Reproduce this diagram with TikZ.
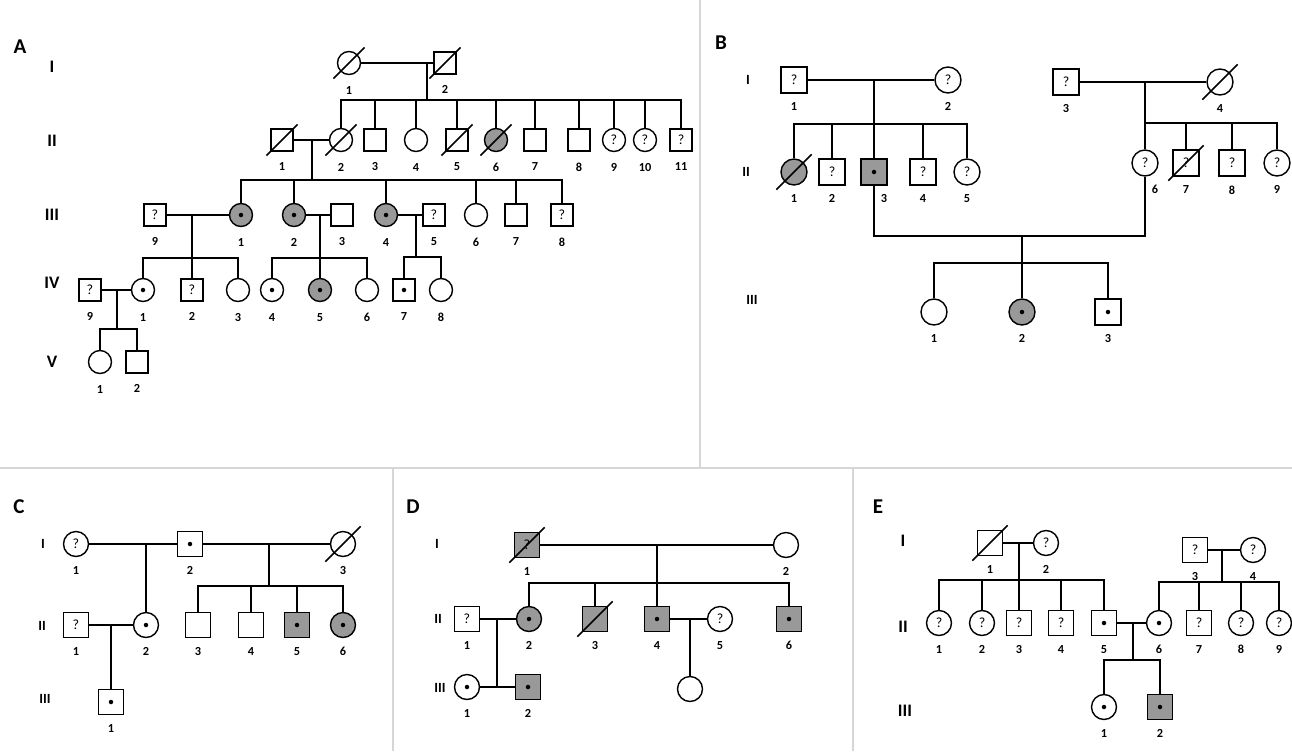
\documentclass[tikz,border=0pt]{standalone}
\usepackage{fontspec}
\setmainfont{Carlito}
\definecolor{shade}{gray}{0.6}
\definecolor{framegray}{gray}{0.84}
\newcommand\numfont{\fontsize{7}{8}\selectfont\bfseries}
\newcommand\qfont{\fontsize{8}{9}\selectfont}
\newcommand\genfont{\fontsize{10}{12}\selectfont\bfseries}
\newcommand\gensmall{\fontsize{8}{9}\selectfont\bfseries}
\newcommand\panelfont{\fontsize{12}{14}\selectfont\bfseries}
\tikzset{
  person/.style={draw, line width=0.8pt, inner sep=0pt, fill=white, font=\qfont},
  male/.style={person, rectangle, minimum size=0.5cm},
  female/.style={person, circle, minimum size=0.5cm},
  aff/.style={fill=shade},
  car/.style={path picture={\fill[black] (path picture bounding box.center) circle (0.045cm);}},
  link/.style={line width=1.15pt},
  slash/.style={line width=0.9pt},
  frame/.style={line width=1pt, draw=framegray},
  every label/.style={font=\numfont, inner sep=0pt},
  gen/.style={font=\genfont},
  gensm/.style={font=\gensmall},
  panel/.style={font=\panelfont}
}
\begin{document}
\begin{tikzpicture}[x=0.02cm, y=-0.02cm, label distance=0.17cm]
\fill[white] (0,0) rectangle (1292,751);
\useasboundingbox (0,0) rectangle (1292,751);
% panel frames
\draw[frame] (700,0) -- (700,468) (0,468) -- (1292,468) (393,468) -- (393,751) (853,468) -- (853,751);

% ---------- A ----------
\begin{scope}[male/.append style={minimum size=0.44cm}, female/.append style={minimum size=0.46cm}, label distance=0.21cm]
\node[panel] (aTag) at (20,47) {A};
\foreach \r/\y in {I/67,II/141,III/215,IV/283,V/362}
  \node[gen] (aG\r) at (52,\y) {\r};
\node[female, label=below:1] (aI1) at (349,63) {};
\node[male, label=below:2] (aI2) at (445,63) {};
\node[male, label=below:1] (aII1) at (282,140) {};
\node[female, label=below:2] (aII2) at (341,140) {};
\node[male, label=below:3] (aII3) at (375,140) {};
\node[female, label=below:4] (aII4) at (416,140) {};
\node[male, label=below:5] (aII5) at (457,140) {};
\node[female, aff, label=below:6] (aII6) at (496,140) {};
\node[male, label=below:7] (aII7) at (535,140) {};
\node[male, label=below:8] (aII8) at (579,140) {};
\node[female, label=below:9] (aII9) at (614,140) {?};
\node[female, label=below:10] (aII10) at (645,140) {?};
\node[male, label=below:11] (aII11) at (681,140) {?};
\node[male, label=below:9] (aIII9) at (155,215) {?};
\node[female, aff, car, label=below:1] (aIII1) at (241,215) {};
\node[female, aff, car, label=below:2] (aIII2) at (294,215) {};
\node[male, label=below:3] (aIII3) at (342,215) {};
\node[female, aff, car, label=below:4] (aIII4) at (386,215) {};
\node[male, label=below:5] (aIII5) at (434,215) {?};
\node[female, label=below:6] (aIII6) at (476,215) {};
\node[male, label=below:7] (aIII7) at (516,215) {};
\node[male, label=below:8] (aIII8) at (562,215) {?};
\node[male, label=below:9] (aIV9) at (90,290) {?};
\node[female, car, label=below:1] (aIV1) at (143,290) {};
\node[male, label=below:2] (aIV2) at (192,290) {?};
\node[female, label=below:3] (aIV3) at (238,290) {};
\node[female, car, label=below:4] (aIV4) at (272,290) {};
\node[female, aff, car, label=below:5] (aIV5) at (320,290) {};
\node[female, label=below:6] (aIV6) at (367,290) {};
\node[male, car, label=below:7] (aIV7) at (404,290) {};
\node[female, label=below:8] (aIV8) at (441,290) {};
\node[female, label=below:1] (aV1) at (100,362) {};
\node[male, label=below:2] (aV2) at (137,362) {};
\coordinate (aM1) at (427,63); \coordinate (aS1) at (427,100);
\coordinate (aM2) at (312,140); \coordinate (aS2) at (312,180);
\coordinate (aM3) at (192,215); \coordinate (aS3) at (192,258);
\coordinate (aM4) at (320,215); \coordinate (aS4) at (320,258);
\coordinate (aM5) at (416,215); \coordinate (aS5) at (416,257);
\coordinate (aM6) at (117,290); \coordinate (aS6) at (117,329);
\draw[link] (aI1) -- (aI2) (aM1) -- (aS1);
\draw[link] (aII2.north) |- (aS1) -| (aII11.north);
\foreach \c in {aII3,aII4,aII5,aII6,aII7,aII8,aII9,aII10}
  \draw[link] (\c.north) -- (\c.north |- aS1);
\draw[link] (aII1) -- (aII2) (aM2) -- (aS2);
\draw[link] (aIII1.north) |- (aS2) -| (aIII8.north);
\foreach \c in {aIII2,aIII4,aIII6,aIII7}
  \draw[link] (\c.north) -- (\c.north |- aS2);
\draw[link] (aIII9) -- (aIII1) (aM3) -- (aIV2);
\draw[link] (aIV1.north) |- (aS3) -| (aIV3.north);
\draw[link] (aIII2) -- (aIII3) (aM4) -- (aIV5);
\draw[link] (aIV4.north) |- (aS4) -| (aIV6.north);
\draw[link] (aIII4) -- (aIII5) (aM5) -- (aS5);
\draw[link] (aIV7.north) |- (aS5) -| (aIV8.north);
\draw[link] (aIV9) -- (aIV1) (aM6) -- (aS6);
\draw[link] (aV1.north) |- (aS6) -| (aV2.north);
\foreach \n in {aI1,aI2,aII1,aII2,aII5,aII6}
  \draw[slash] ([shift={(225:0.44cm)}]\n.center) -- ([shift={(45:0.44cm)}]\n.center);
\end{scope}

% ---------- B ----------
\node[panel] (bTag) at (721,43) {B};
\node[gensm] (bGI) at (748,80) {I};
\node[gensm] (bGII) at (746,172) {II};
\node[gensm] (bGIII) at (752,300) {III};
\begin{scope}[male/.append style={minimum size=0.52cm}, female/.append style={minimum size=0.52cm}]
\node[male, label=below:1] (bI1) at (794,80) {?};
\node[female, label=below:2] (bI2) at (948,80) {?};
\node[male, label=below:3] (bI3) at (1066,82) {?};
\node[female, label=below:4] (bI4) at (1220,82) {};
\node[female, aff, label=below:1] (bII1) at (794,172) {};
\node[male, label=below:2] (bII2) at (832,172) {?};
\node[male, aff, car, label={[xshift=0.2cm]below:3}] (bII3) at (874,172) {};
\node[male, label=below:4] (bII4) at (923,172) {?};
\node[female, label=below:5] (bII5) at (967,172) {?};
\node[female, label={[xshift=0.2cm]below:6}] (bII6) at (1145,163) {?};
\node[male, label=below:7] (bII7) at (1186,163) {?};
\node[male, label=below:8] (bII8) at (1232,163) {?};
\node[female, label=below:9] (bII9) at (1277,163) {?};
\node[female, label=below:1] (bIII1) at (934,312) {};
\node[female, aff, car, label=below:2] (bIII2) at (1022,312) {};
\node[male, car, label=below:3] (bIII3) at (1108,312) {};
\coordinate (bM1) at (874,80); \coordinate (bS1) at (874,124);
\coordinate (bM2) at (1145,82); \coordinate (bS2) at (1145,123);
\coordinate (bM3) at (1022,236); \coordinate (bS3) at (1022,263);
\draw[link] (bI1) -- (bI2) (bM1) -- (bII3);
\draw[link] (bII1.north) |- (bS1) -| (bII5.north);
\foreach \c in {bII2,bII4}
  \draw[link] (\c.north) -- (\c.north |- bS1);
\draw[link] (bI3) -- (bI4) (bM2) -- (bII6);
\draw[link] (bS2) -| (bII9.north);
\foreach \c in {bII7,bII8}
  \draw[link] (\c.north) -- (\c.north |- bS2);
\draw[link] (bII3) |- (bM3) -| (bII6);
\draw[link] (bM3) -- (bIII2);
\draw[link] (bIII1.north) |- (bS3) -| (bIII3.north);
\foreach \n in {bII1,bI4,bII7}
  \draw[slash] ([shift={(225:0.5cm)}]\n.center) -- ([shift={(45:0.5cm)}]\n.center);
\end{scope}

% ---------- C ----------
\node[panel] (cTag) at (19,507) {C};
\node[gensm] (cGI) at (43,544) {I};
\node[gensm] (cGII) at (42,626) {II};
\node[gensm] (cGIII) at (45,699) {III};
\node[female, label=below:1] (cI1) at (76,544) {?};
\node[male, car, label=below:2] (cI2) at (190,544) {};
\node[female, label=below:3] (cI3) at (343,544) {};
\node[male, label=below:1] (cII1) at (76,625) {?};
\node[female, car, label=below:2] (cII2) at (146,625) {};
\node[male, label=below:3] (cII3) at (198,625) {};
\node[male, label=below:4] (cII4) at (251,625) {};
\node[male, aff, car, label=below:5] (cII5) at (297,625) {};
\node[female, aff, car, label=below:6] (cII6) at (343,625) {};
\node[male, car, label=below:1] (cIII1) at (111,702) {};
\coordinate (cM1) at (146,544);
\coordinate (cM2) at (269,544); \coordinate (cS2) at (269,586);
\coordinate (cM3) at (111,625);
\draw[link] (cI1) -- (cI2) (cM1) -- (cII2);
\draw[link] (cI2) -- (cI3) (cM2) -- (cS2);
\draw[link] (cII3.north) |- (cS2) -| (cII6.north);
\foreach \c in {cII4,cII5}
  \draw[link] (\c.north) -- (\c.north |- cS2);
\draw[link] (cII1) -- (cII2) (cM3) -- (cIII1);
\draw[slash] ([shift={(225:0.5cm)}]cI3.center) -- ([shift={(45:0.5cm)}]cI3.center);

% ---------- D ----------
\node[panel] (dTag) at (413,507) {D};
\node[gensm] (dGI) at (437,544) {I};
\node[gensm] (dGII) at (438,619) {II};
\node[gensm] (dGIII) at (440,688) {III};
\node[male, aff, label=below:1] (dI1) at (527,545) {?};
\node[female, label=below:2] (dI2) at (786,545) {};
\node[male, label=below:1] (dII1) at (467,619) {?};
\node[female, aff, car, label=below:2] (dII2) at (529,619) {};
\node[male, aff, label=below:3] (dII3) at (595,619) {};
\node[male, aff, car, label=below:4] (dII4) at (657,619) {};
\node[female, label=below:5] (dII5) at (720,619) {?};
\node[male, aff, car, label=below:6] (dII6) at (789,619) {};
\node[female, car, label=below:1] (dIII1) at (467,687) {};
\node[male, aff, car, label=below:2] (dIII2) at (528,687) {};
\node[female] (dIII3) at (690,689) {};
\coordinate (dM1) at (657,545); \coordinate (dS1) at (657,583);
\coordinate (dM2) at (497,619); \coordinate (dS2) at (497,687);
\coordinate (dM3) at (690,619);
\draw[link] (dI1) -- (dI2) (dM1) -- (dII4);
\draw[link] (dII2.north) |- (dS1) -| (dII6.north);
\draw[link] (dII3.north) -- (dII3.north |- dS1);
\draw[link] (dII1) -- (dII2) (dM2) -- (dS2);
\draw[link] (dIII1) -- (dIII2);
\draw[link] (dII4) -- (dII5) (dM3) -- (dIII3);
\foreach \n in {dI1,dII3}
  \draw[slash] ([shift={(225:0.5cm)}]\n.center) -- ([shift={(45:0.5cm)}]\n.center);

% ---------- E ----------
\node[panel] (eTag) at (878,507) {E};
\node[gen] (eGI) at (903,541) {I};
\node[gen] (eGII) at (903,627) {II};
\node[gen] (eGIII) at (905,711) {III};
\node[male, label=below:1] (eI1) at (990,543) {};
\node[female, label=below:2] (eI2) at (1046,543) {?};
\node[male, label=below:3] (eI3) at (1195,550) {?};
\node[female, label=below:4] (eI4) at (1253,550) {?};
\node[female, label=below:1] (eII1) at (939,623) {?};
\node[female, label=below:2] (eII2) at (982,623) {?};
\node[male, label=below:3] (eII3) at (1019,623) {?};
\node[male, label=below:4] (eII4) at (1061,623) {?};
\node[male, car, label=below:5] (eII5) at (1104,623) {};
\node[female, car, label=below:6] (eII6) at (1159,623) {};
\node[male, label=below:7] (eII7) at (1199,623) {?};
\node[female, label=below:8] (eII8) at (1241,623) {?};
\node[female, label=below:9] (eII9) at (1279,623) {?};
\node[female, car, label=below:1] (eIII1) at (1104,707) {};
\node[male, aff, car, label=below:2] (eIII2) at (1160,707) {};
\coordinate (eM1) at (1019,543); \coordinate (eS1) at (1019,580);
\coordinate (eM2) at (1222,550); \coordinate (eS2) at (1222,582);
\coordinate (eM3) at (1133,623); \coordinate (eS3) at (1133,660);
\draw[link] (eI1) -- (eI2) (eM1) -- (eII3);
\draw[link] (eII1.north) |- (eS1) -| (eII5.north);
\foreach \c in {eII2,eII4}
  \draw[link] (\c.north) -- (\c.north |- eS1);
\draw[link] (eI3) -- (eI4) (eM2) -- (eS2);
\draw[link] (eII6.north) |- (eS2) -| (eII9.north);
\foreach \c in {eII7,eII8}
  \draw[link] (\c.north) -- (\c.north |- eS2);
\draw[link] (eII5) -- (eII6) (eM3) -- (eS3);
\draw[link] (eIII1.north) |- (eS3) -| (eIII2.north);
\draw[slash] ([shift={(225:0.5cm)}]eI1.center) -- ([shift={(45:0.5cm)}]eI1.center);
\end{tikzpicture}
\end{document}
